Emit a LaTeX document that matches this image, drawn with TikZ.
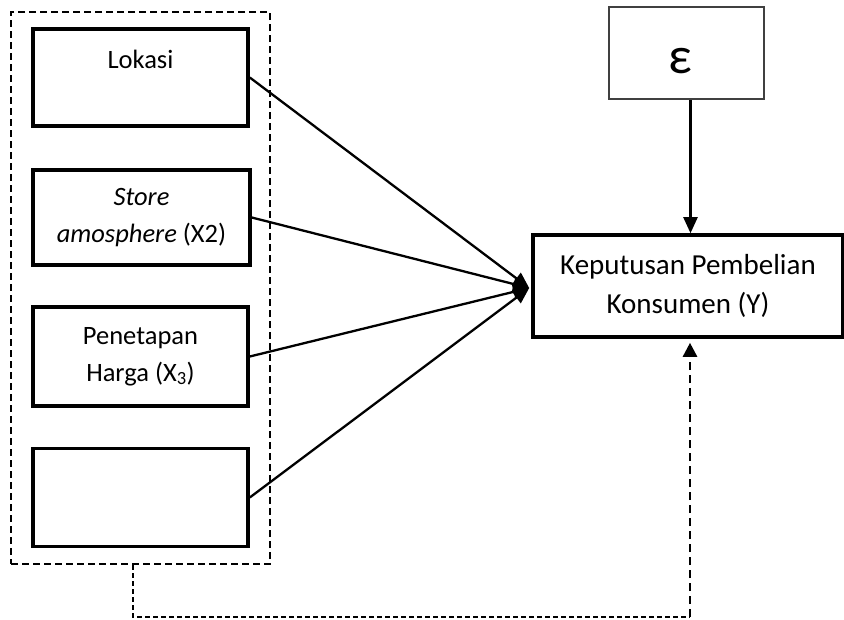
\documentclass[tikz,border=0pt]{standalone}
\usepackage{fontspec}
\setmainfont{Carlito}
\usetikzlibrary{arrows.meta,calc}
\begin{document}
\begin{tikzpicture}[x=1pt,y=-1pt,
  varbox/.style={draw=black, line width=3.6pt, rectangle, inner sep=0pt, align=center,
    minimum width=215pt, font=\fontsize{26.5}{37}\selectfont},
  grpbox/.style={draw=black, line width=2.4pt, dash pattern=on 7pt off 4pt, rectangle, inner sep=0pt},
  ybox/.style={draw=black, line width=3.6pt, rectangle, inner sep=0pt, align=center,
    minimum width=310pt, minimum height=102pt, font=\fontsize{29}{39}\selectfont},
  epsbox/.style={draw=black!75, line width=2pt, rectangle, inner sep=0pt,
    minimum width=155pt, minimum height=92pt},
  conn/.style={line width=2.3pt, -{Triangle[width=14pt,length=16pt]}},
  finedash/.style={line width=1.6pt, dash pattern=on 5pt off 3pt},
  bigdash/.style={line width=2.6pt, dash pattern=on 8pt off 5pt, -{Triangle[width=14pt,length=14pt]}, shorten >=4pt}
]
\useasboundingbox (0,0) rectangle (844,619);
% group box
\node[grpbox, minimum width=259pt, minimum height=552pt] (grp) at (140.5,288) {};
% variable boxes
\node[varbox, minimum height=97pt] (b1) at (140.5,77.5) {Lokasi\\\phantom{L}};
\node[varbox, minimum height=95pt, minimum width=217pt] (b2) at (141.5,217.5) {\textit{Store}\\\textit{amosphere} (X2)};
\node[varbox, minimum height=99pt] (b3) at (140.5,356.5) {Penetapan\\Harga (X\textsubscript{3})};
\node[varbox, minimum height=98pt] (b4) at (140.5,497.5) {};
% dependent
\node[ybox] (Y) at (688,286) {Keputusan Pembelian\\Konsumen (Y)};
% epsilon
\node[epsbox] (eps) at (686.5,53) {};
\node[font=\fontsize{52}{52}\selectfont, inner sep=0pt] (epst) at (680,61) {ε};
% connectors
\coordinate (tip) at ($(Y.west)+(-2,2)$);
\draw[conn] (b1.east) -- (tip);
\draw[conn] (b2.east) -- (tip);
\draw[conn] (b3.east) -- (tip);
\draw[conn] (b4.east) -- (tip);
\coordinate (epsfoot) at ($(eps.south)+(4,0)$);
\draw[conn] (epsfoot) -- (epsfoot |- Y.north);
% dashed feedback
\coordinate (d1) at (133,617);
\coordinate (d2) at (690,617);
\draw[finedash] (grp.south -| d1) -- (d1) -- (d2);
\draw[bigdash] (d2) -- (d2 |- Y.south);
\end{tikzpicture}
\end{document}
